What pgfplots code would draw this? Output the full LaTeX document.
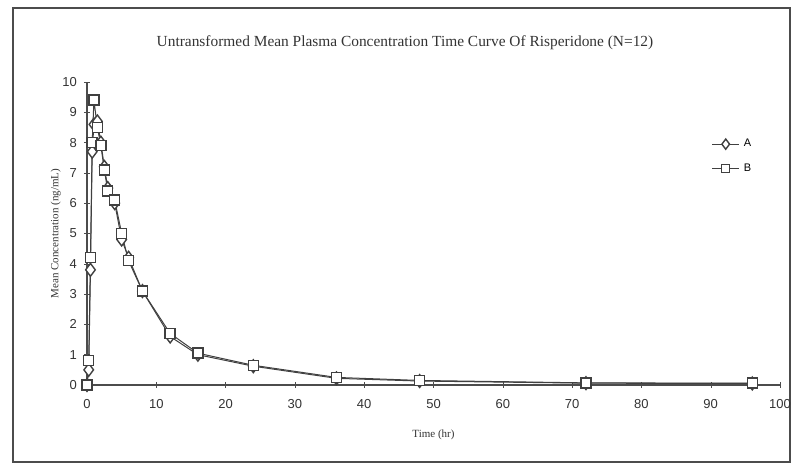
\documentclass[border=0pt]{standalone}
\usepackage{fontspec}
\setmainfont{Liberation Serif}
\setsansfont{Liberation Sans}
\usepackage{pgfplots}
\pgfplotsset{compat=1.18}
\begin{document}
\begin{tikzpicture}
\useasboundingbox (0,0) rectangle (395.5pt,232pt);
\draw[black!70, line width=0.8pt] (6.5pt,1pt) rectangle (395pt,228pt);
\node[font=\fontsize{7.7}{8}\selectfont, text=black!80] at (202.5pt,210.5pt) {Untransformed Mean Plasma Concentration Time Curve Of Risperidone (N=12)};
\begin{axis}[
  at={(43.5pt,39.5pt)}, anchor=origin,
  scale only axis, width=346.5pt, height=151.5pt,
  xmin=0, xmax=100, ymin=0, ymax=10,
  axis lines*=left,
  axis line style={black!70, line width=0.6pt},
  xtick={0,10,...,100}, ytick={0,1,...,10},
  tick align=center, major tick length=3pt,
  tick style={black!70},
  /pgf/number format/assume math mode=true,
  ticklabel style={font=\sffamily\fontsize{6.5}{7}\selectfont, text=black!80},
  xticklabel style={yshift=-2pt},
  xlabel={Time (hr)}, ylabel={Mean Concentration (ng/mL)},
  label style={font=\fontsize{5.5}{6}\selectfont, text=black!80},
  xlabel style={yshift=-4pt},
  ylabel style={yshift=-6pt},
  legend style={draw=none, fill=none, at={(0.892,0.84)}, anchor=north west, font=\sffamily\fontsize{5.5}{6}\selectfont, row sep=3pt},
  legend cell align=left,
  legend image post style={scale=0.8},
  clip=false,
]
\addplot[black!75, line width=0.5pt, mark=diamond*, mark size=3.2pt, mark options={fill=white, line width=0.7pt}] coordinates {
(0,0) (0.25,0.5) (0.5,3.8) (0.75,7.7) (1,8.6) (1.5,8.7) (2,8.0) (2.5,7.2) (3,6.5) (4,6.0) (5,4.8) (6,4.2) (8,3.1) (12,1.6) (16,1.0) (24,0.62) (36,0.22) (48,0.13) (72,0.06) (96,0.05)
};
\addlegendentry{A}
\addplot[black!75, line width=0.5pt, mark=square*, mark size=2.5pt, mark options={fill=white, line width=0.7pt}] coordinates {
(0,0) (0.25,0.8) (0.5,4.2) (0.75,8.0) (1,9.4) (1.5,8.5) (2,7.9) (2.5,7.1) (3,6.4) (4,6.1) (5,5.0) (6,4.1) (8,3.1) (12,1.7) (16,1.05) (24,0.65) (36,0.25) (48,0.15) (72,0.07) (96,0.06)
};
\addlegendentry{B}
\end{axis}
\end{tikzpicture}
\end{document}
